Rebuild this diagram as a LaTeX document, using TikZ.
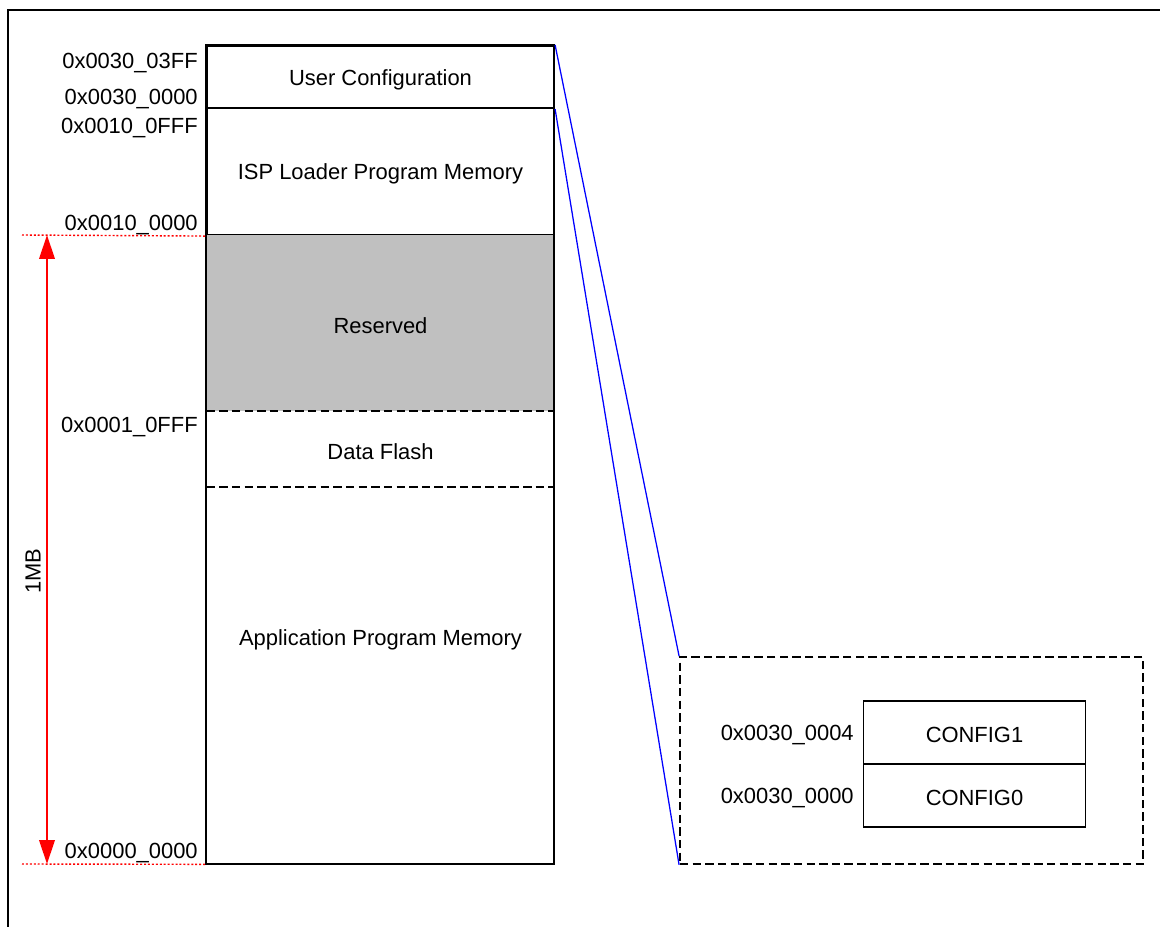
\documentclass[tikz,border=0pt]{standalone}
\usepackage{fontspec}
\setmainfont{Liberation Sans}
\usetikzlibrary{positioning,arrows.meta}
\definecolor{resvgray}{RGB}{192,192,192}

\tikzset{
  region/.style={minimum width=8.675cm, inner sep=0pt},
  addr/.style={anchor=east, inner sep=0pt, yshift=-2pt},
  cfgreg/.style={draw, line width=0.8pt, minimum width=5.55cm, minimum height=1.575cm, inner sep=0pt},
  redmark/.style={red, line width=1pt, dash pattern=on 1.4pt off 1.4pt},
  sep/.style={line width=1.2pt, dash pattern=on 6pt off 3pt},
  lbl/.style={inner sep=0pt, yshift=-2pt},
}

\begin{document}
\begin{tikzpicture}[x=0.025cm, y=-0.025cm, font=\fontsize{15.6}{18}\selectfont]
        \useasboundingbox (0,0) rectangle (1160,927);
        \draw[line width=1.5pt] (8,960) |- (1200,10);

        \node[region, draw, line width=1.5pt, minimum height=1.55cm] (ucfg) at (380.5, 77) {};
        \node[region, draw, line width=1.5pt, minimum height=3.175cm] (isp) at (380.5, 171.5) {};
        \node[region, fill=resvgray, minimum height=4.4cm] (resv) at (380.5, 323) {};
        \node[region, minimum height=1.9cm] (dflash) at (380.5, 449) {};
        \node[region, minimum height=9.425cm] (app) at (380.5, 675.5) {};

        \node[lbl] (ucfgtext) at (ucfg) {User Configuration};
        \node[lbl] (isptext) at (isp) {ISP Loader Program Memory};
        \node[lbl] (resvtext) at (resv) {Reserved};
        \node[lbl] (dflashtext) at (dflash) {Data Flash};
        \node[lbl] (apptext) at (380.5, 637) {Application Program Memory};

        \draw[line width=1.5pt] (ucfg.north west) rectangle (app.south east);
        \draw[sep] (resv.south west) -- (resv.south east);
        \draw[sep] (dflash.south west) -- (dflash.south east);

        \node[addr] (a303ff) at (198, 60) {0x0030\_03FF};
        \node[addr] (a3000) at (198, 96) {0x0030\_0000};
        \node[addr] (a10fff) at (198, 125) {0x0010\_0FFF};
        \node[addr] (a1000) at (198, 222) {0x0010\_0000};
        \node[addr] (a10ffff) at (198, 424) {0x0001\_0FFF};
        \node[addr] (a0000) at (198, 850) {0x0000\_0000};

        \coordinate (mbtop) at (47, 235);
        \coordinate (mbbot) at (47, 864);
        \draw[redmark] (22, 235) -- (isp.south west);
        \draw[redmark] (22, 864) -- (app.south west);
        \draw[red, line width=1.4pt, {Triangle[width=11pt,length=17pt]}-{Triangle[width=11pt,length=17pt]}] (mbtop) -- (mbbot);
        \node[rotate=90] (onemb) at (33, 571) {1MB};

        \node[draw, sep, minimum width=11.575cm, minimum height=5.175cm] (cfgarea) at (911.5, 760.5) {};
        \node[cfgreg] (cfg1) at (974.5, 732.5) {};
        \node[cfgreg] (cfg0) at (974.5, 795.5) {};
        \node[lbl] (cfg1text) at (cfg1) {CONFIG1};
        \node[lbl] (cfg0text) at (cfg0) {CONFIG0};
        \node[addr] (a3004) at (854, 732) {0x0030\_0004};
        \node[addr] (a3000b) at (854, 795) {0x0030\_0000};

        \draw[blue, line width=0.9pt] (ucfg.north east) -- (cfgarea.north west);
        \draw[blue, line width=0.9pt] (ucfg.south east) -- (cfgarea.south west);
      \end{tikzpicture}
\end{document}
